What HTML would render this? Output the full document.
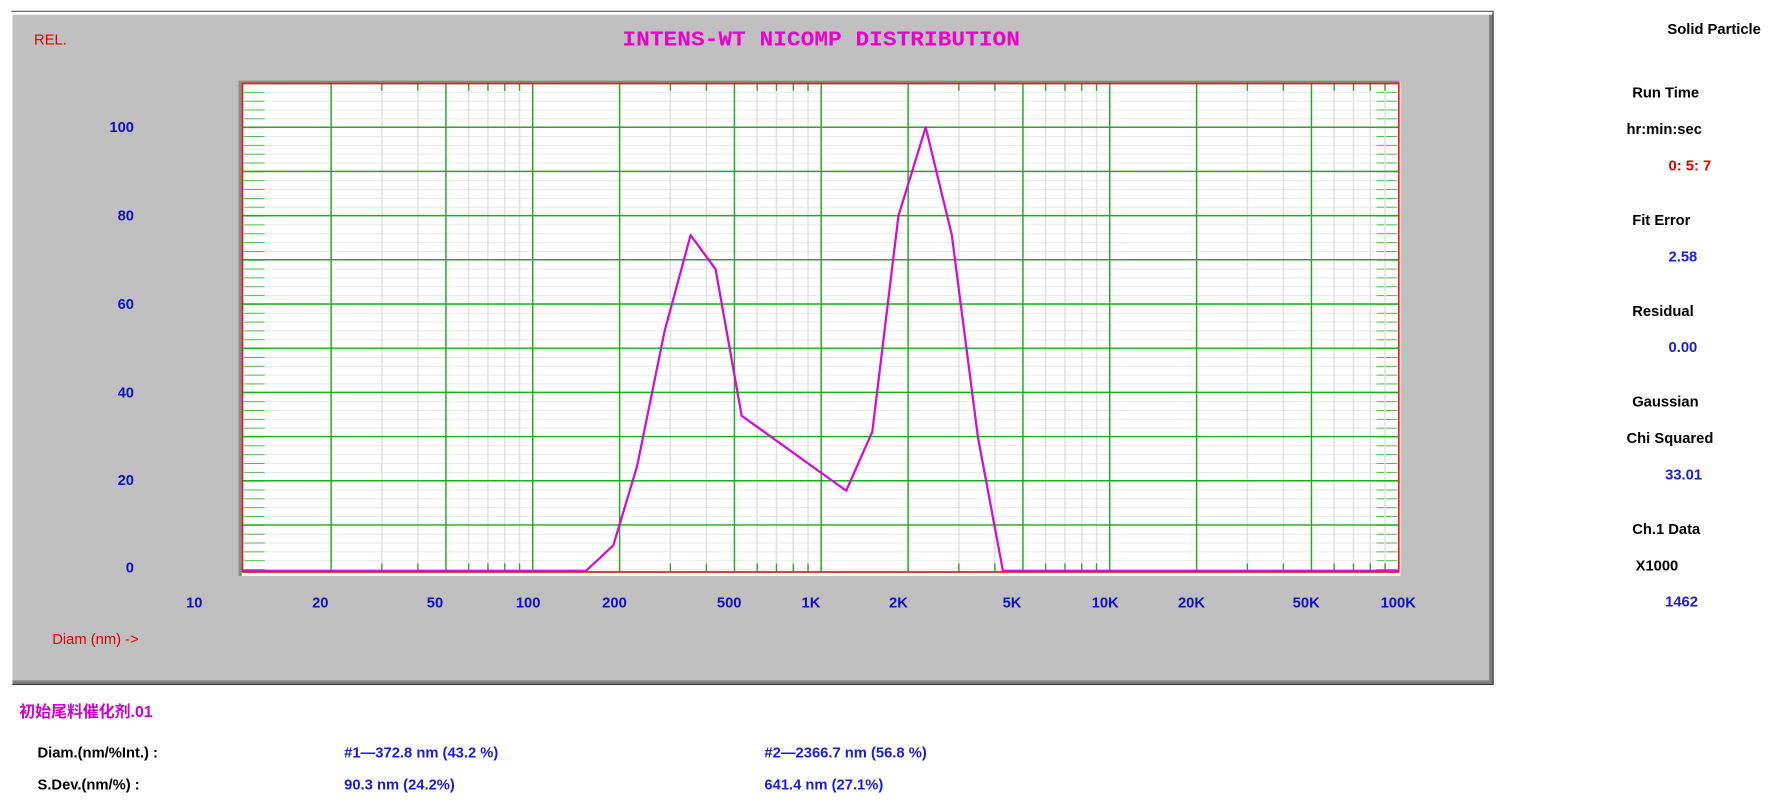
<!DOCTYPE html>
<html><head><meta charset="utf-8"><style>
html,body{margin:0;padding:0;background:#fff;overflow:hidden}
svg{display:block}
.b{font-family:"Liberation Sans",sans-serif;font-weight:bold;font-size:13px}
.k{fill:#000}.u{fill:#1a1ae0}.ax{fill:#1010c0}.r{fill:#e00000}
</style></head><body>
<svg width="1781" height="802" viewBox="0 0 1568 706" preserveAspectRatio="none" xmlns="http://www.w3.org/2000/svg">
<defs>
<pattern id="hp" patternUnits="userSpaceOnUse" x="213" y="501" width="1019" height="7.78">
<rect x="0" y="-0.6" width="1019" height="1.3" fill="#e2e2e2"/>
<rect x="2" y="-0.6" width="18" height="1.3" fill="#22aa22"/>
<rect x="999" y="-0.6" width="18" height="1.3" fill="#22aa22"/>
</pattern>
</defs>
<!-- panel -->
<rect x="0" y="0" width="1568" height="706" fill="#fff"/>
<line x1="10" y1="10" x2="1315" y2="10" stroke="#555" stroke-width="1"/>
<rect x="11" y="13" width="1303" height="590" fill="#c0c0c0"/>
<rect x="11" y="599" width="1304" height="3" fill="#808080"/>
<rect x="1311" y="13" width="3" height="589" fill="#808080"/>
<line x1="11" y1="602.5" x2="1315" y2="602.5" stroke="#333"/>
<line x1="1314.5" y1="10" x2="1314.5" y2="603" stroke="#333"/>
<!-- plot area -->
<rect x="210" y="71" width="1022" height="436" fill="#8a8a8a"/>
<rect x="213" y="73" width="1020" height="434" fill="#fff"/>
<rect x="213" y="73" width="1019" height="430" fill="url(#hp)"/>
<!-- vertical gray lines -->
<g stroke="#e0e0e0" stroke-width="1.3">
<path d="M336.2 73V503M367.9 73V503M412.6 73V503M429.6 73V503M444.4 73V503M457.4 73V503
M590.2 73V503M621.9 73V503M666.6 73V503M683.6 73V503M698.4 73V503M711.4 73V503
M844.2 73V503M875.9 73V503M920.6 73V503M937.6 73V503M952.4 73V503M965.4 73V503
M1098.2 73V503M1129.9 73V503M1174.6 73V503M1191.6 73V503M1206.4 73V503M1219.4 73V503"/>
</g>
<g stroke="#22aa22" stroke-width="1.2">
<path d="M336.2 73v7M367.9 73v7M412.6 73v7M429.6 73v7M444.4 73v7M457.4 73v7
M590.2 73v7M621.9 73v7M666.6 73v7M683.6 73v7M698.4 73v7M711.4 73v7
M844.2 73v7M875.9 73v7M920.6 73v7M937.6 73v7M952.4 73v7M965.4 73v7
M1098.2 73v7M1129.9 73v7M1174.6 73v7M1191.6 73v7M1206.4 73v7M1219.4 73v7
M336.2 496v7M367.9 496v7M412.6 496v7M429.6 496v7M444.4 496v7M457.4 496v7
M590.2 496v7M621.9 496v7M666.6 496v7M683.6 496v7M698.4 496v7M711.4 496v7
M844.2 496v7M875.9 496v7M920.6 496v7M937.6 496v7M952.4 496v7M965.4 496v7
M1098.2 496v7M1129.9 496v7M1174.6 496v7M1191.6 496v7M1206.4 496v7M1219.4 496v7"/>
</g>
<!-- major green -->
<g stroke="#22aa22" stroke-width="1.3">
<path d="M291.5 73V503M392.6 73V503M469 73V503M545.5 73V503M646.6 73V503M723 73V503M799.5 73V503M900.6 73V503M977 73V503M1053.5 73V503M1154.6 73V503"/>
<path d="M213 462.1H1232M213 423.2H1232M213 384.3H1232M213 345.4H1232M213 306.5H1232M213 267.6H1232M213 228.7H1232M213 189.8H1232M213 150.9H1232M213 112H1232"/>
</g>
<!-- red border -->
<g stroke="#e02020" stroke-width="1.5" fill="none">
<path d="M213.5 503V73.5H1231.5V503"/>
<path d="M213 503.5H1232"/>
</g>
<!-- data -->
<polyline fill="none" stroke="#d010d0" stroke-width="2" stroke-linejoin="round"
points="214,502.5 516,502.5 540,480 561,410 585,292 608,207 630,237 653,366 745,432 768,380 791,190 815,112 838,207 861,385 883,502.5 1231,502.5"/>
<!-- titles -->
<text x="30" y="39" class="b r" style="font-size:13px;font-weight:normal">REL.</text>
<text x="548" y="40" fill="#ee00cc" font-family="Liberation Mono,monospace" font-weight="bold" font-size="19" textLength="350" lengthAdjust="spacingAndGlyphs">INTENS-WT NICOMP DISTRIBUTION</text>
<!-- y labels -->
<g class="b ax" text-anchor="end">
<text x="118" y="116">100</text><text x="118" y="194">80</text><text x="118" y="272">60</text>
<text x="118" y="350">40</text><text x="118" y="427">20</text><text x="118" y="504">0</text>
</g>
<g class="b ax" text-anchor="middle">
<text x="171" y="535">10</text><text x="282" y="535">20</text><text x="383" y="535">50</text>
<text x="465" y="535">100</text><text x="541" y="535">200</text><text x="642" y="535">500</text>
<text x="714" y="535">1K</text><text x="791" y="535">2K</text><text x="891" y="535">5K</text>
<text x="973" y="535">10K</text><text x="1049" y="535">20K</text><text x="1150" y="535">50K</text>
<text x="1231" y="535">100K</text>
</g>
<text x="46" y="567" class="b r" style="font-weight:normal">Diam (nm) -&gt;</text>
<!-- right panel -->
<g class="b">
<text x="1468" y="30" class="k">Solid Particle</text>
<text x="1437" y="86" class="k">Run Time</text>
<text x="1432" y="118" class="k">hr:min:sec</text>
<text x="1469" y="150" class="r">0: 5: 7</text>
<text x="1437" y="198" class="k">Fit Error</text>
<text x="1469" y="230" class="u">2.58</text>
<text x="1437" y="278" class="k">Residual</text>
<text x="1469" y="310" class="u">0.00</text>
<text x="1437" y="358" class="k">Gaussian</text>
<text x="1432" y="390" class="k">Chi Squared</text>
<text x="1466" y="422" class="u">33.01</text>
<text x="1437" y="470" class="k">Ch.1 Data</text>
<text x="1440" y="502" class="k">X1000</text>
<text x="1466" y="534" class="u">1462</text>
</g>
<!-- bottom -->
<text x="17" y="631" fill="#cc00cc" font-family="Liberation Sans,Noto Sans CJK SC,sans-serif" font-size="14" font-weight="bold">初始尾料催化剂.01</text>
<g class="b">
<text x="33" y="667" class="k">Diam.(nm/%Int.) :</text>
<text x="303" y="667" class="u">#1—372.8 nm (43.2 %)</text>
<text x="673" y="667" class="u">#2—2366.7 nm (56.8 %)</text>
<text x="33" y="695" class="k">S.Dev.(nm/%) :</text>
<text x="303" y="695" class="u">90.3 nm (24.2%)</text>
<text x="673" y="695" class="u">641.4 nm (27.1%)</text>
</g>
</svg>
</body></html>
